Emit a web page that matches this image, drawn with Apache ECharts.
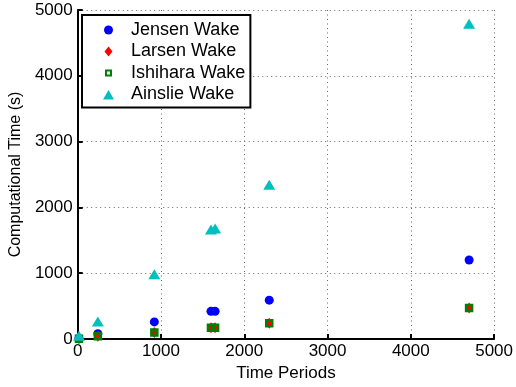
<!DOCTYPE html>
<html>
<head>
<meta charset="utf-8">
<script src="https://cdn.jsdelivr.net/npm/echarts@6/dist/echarts.min.js"></script>
<style>
  html, body { margin: 0; padding: 0; background: #fff; }
  #chart { width: 516px; height: 387px; }
</style>
</head>
<body>
<div id="chart"></div>
<script>
// time periods for each run
const periods = [15, 242, 920, 1600, 1650, 2300, 4700]

// computational time (s) per wake model
const jensen = [10, 80, 260, 420, 420, 590, 1200]
const larsen = [5, 40, 100, 170, 170, 240, 470]
const ishihara = [5, 40, 100, 170, 170, 240, 470]
const ainslie = [50, 265, 985, 1665, 1680, 2345, 4790]

const xTicks = [0, 1000, 2000, 3000, 4000, 5000]
const yTicks = [0, 1000, 2000, 3000, 4000, 5000]

function pairs(ys) {
  return periods.map((x, i) => [x, ys[i]])
}

const myChart = echarts.init(document.getElementById('chart'))

const font = 'Liberation Sans, Arial, sans-serif'

const axisCommon = {
  type: 'value',
  min: xTicks[0],
  max: xTicks[xTicks.length - 1],
  interval: 1000,
  axisLine: { show: true, onZero: false, lineStyle: { color: '#000', width: 2 } },
  axisTick: { show: true, inside: true, length: 5, lineStyle: { color: '#000', width: 2 } },
  axisLabel: { color: '#000', fontSize: 17, fontFamily: font, formatter: v => String(v) },
  splitLine: { show: true, lineStyle: { color: '#666', type: [1, 3.5], width: 1 } },
  nameTextStyle: { color: '#000', fontSize: 17, fontFamily: font },
  nameLocation: 'middle'
}

const option = {
  backgroundColor: '#fff',
  animation: false,
  grid: { left: 77, right: 19, top: 10, bottom: 48 },
  legend: {
    orient: 'vertical',
    left: 82,
    top: 15,
    padding: [6, 5, 4, 20],
    itemGap: 3.5,
    itemWidth: 11,
    itemHeight: 10,
    borderColor: '#000',
    borderWidth: 2,
    backgroundColor: '#fff',
    textStyle: { color: '#000', fontSize: 18, lineHeight: 18, fontFamily: font, padding: [0, 0, 0, 12] },
    data: [
      { name: 'Jensen Wake', icon: 'path://M0,0M11,10M1,5A4.5,4.5,0,1,1,10,5A4.5,4.5,0,1,1,1,5Z' },
      { name: 'Larsen Wake', icon: 'path://M0,0M11,10M5.5,0L9.5,5L5.5,10L1.5,5Z' },
      { name: 'Ishihara Wake', icon: 'path://M0,0M11,10M3,2.5L8,2.5L8,7.5L3,7.5Z' },
      { name: 'Ainslie Wake', icon: 'path://M0,0M11,10M5.5,0.5L11,10L0,10Z' }
    ]
  },
  xAxis: Object.assign({}, axisCommon, {
    name: 'Time Periods',
    nameGap: 25,
    axisLabel: Object.assign({}, axisCommon.axisLabel, { margin: 4 })
  }),
  yAxis: Object.assign({}, axisCommon, {
    min: yTicks[0],
    max: yTicks[yTicks.length - 1],
    name: 'Computational Time (s)',
    nameGap: 50,
    nameTextStyle: Object.assign({}, axisCommon.nameTextStyle, { fontSize: 16 }),
    axisLabel: Object.assign({}, axisCommon.axisLabel, { margin: 5 })
  }),
  series: [
    {
      name: 'Jensen Wake',
      type: 'scatter',
      symbol: 'circle',
      symbolSize: 9,
      itemStyle: { color: '#0000ff', opacity: 1 },
      data: pairs(jensen)
    },
    {
      name: 'Larsen Wake',
      type: 'scatter',
      symbol: 'diamond',
      symbolSize: [8, 11],
      itemStyle: { color: '#ff0000', opacity: 1 },
      data: pairs(larsen)
    },
    {
      name: 'Ishihara Wake',
      type: 'scatter',
      symbol: 'rect',
      symbolSize: 6,
      itemStyle: { color: 'rgba(0,0,0,0)', borderColor: '#008000', borderWidth: 2.5, opacity: 1 },
      data: pairs(ishihara)
    },
    {
      name: 'Ainslie Wake',
      type: 'scatter',
      symbol: 'triangle',
      symbolSize: [12, 10],
      itemStyle: { color: '#00bfbf', opacity: 1 },
      data: pairs(ainslie)
    }
  ]
}

myChart.setOption(option)
</script>
</body>
</html>
